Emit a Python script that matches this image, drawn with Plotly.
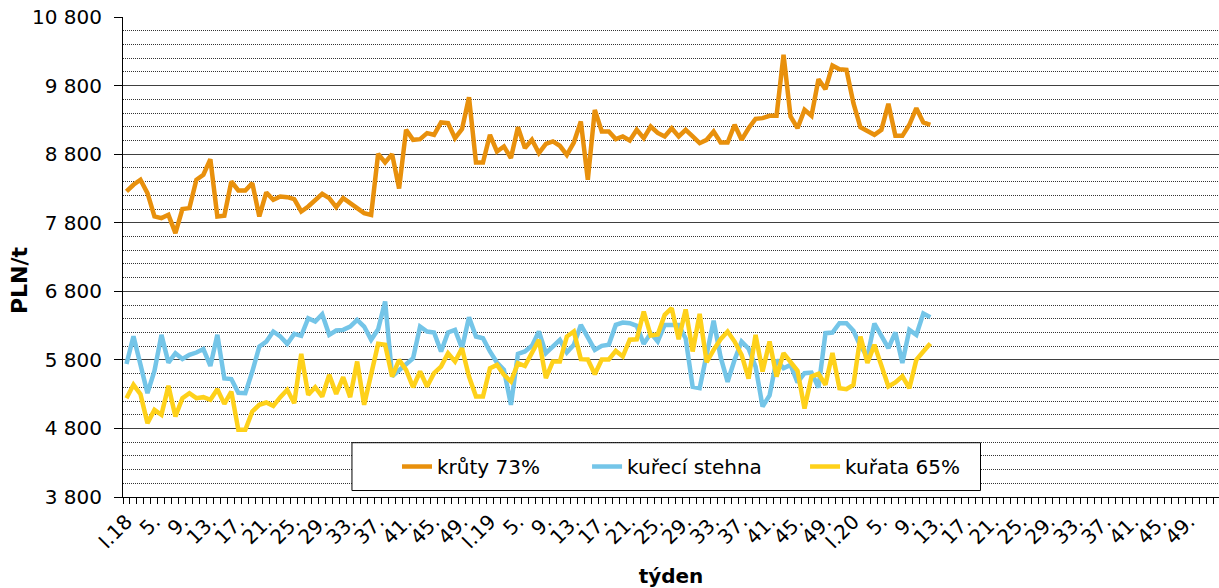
import plotly.graph_objects as go

# week categories 2018-2020 (52 weeks each)
years = ["18", "19", "20"]
weeks = [f"{w}.{y}" for y in years for w in range(1, 53)]

# axis labels shown every 4th week
tick_labels = ["I.18", "5.", "9.", "13.", "17.", "21.", "25.", "29.", "33.", "37.", "41.", "45.", "49.",
               "I.19", "5.", "9.", "13.", "17.", "21.", "25.", "29.", "33.", "37.", "41.", "45.", "49.",
               "I.20", "5.", "9.", "13.", "17.", "21.", "25.", "29.", "33.", "37.", "41.", "45.", "49."]

# PLN/t, weeks I.18 .. 12.20
kruty = [8256, 8353, 8426, 8231, 7891, 7867, 7915, 7648, 7998, 8013,
         8426, 8499, 8727, 7891, 7901, 8401, 8270, 8270, 8377, 7891,
         8241, 8134, 8183, 8173, 8144, 7964, 8037, 8134, 8222, 8158,
         8027, 8158, 8086, 8013, 7940, 7915, 8805, 8678, 8800, 8300,
         9155, 9009, 9019, 9106, 9082, 9262, 9252, 9033, 9165, 9631,
         8678, 8678, 9082, 8839, 8912, 8742, 9194, 8890, 9009, 8815,
         8951, 8985, 8922, 8790, 8970, 9276, 8426, 9446, 9130, 9130,
         9019, 9058, 8999, 9155, 9033, 9203, 9110, 9058, 9178, 9058,
         9155, 9058, 8960, 9009, 9130, 8970, 8970, 9228, 9009, 9178,
         9315, 9325, 9359, 9359, 10248, 9349, 9178, 9446, 9359, 9893,
         9747, 10093, 10039, 10029, 9543, 9194, 9130, 9082, 9155, 9534,
         9067, 9067, 9228, 9470, 9262, 9228]

stehna = [5740, 6145, 5730, 5314, 5640, 6165, 5760, 5897, 5812, 5873,
          5907, 5958, 5712, 6165, 5528, 5520, 5320, 5314, 5630, 5994,
          6067, 6213, 6140, 6033, 6179, 6150, 6407, 6359, 6466, 6165,
          6228, 6237, 6286, 6383, 6286, 6092, 6247, 6650, 5560, 5654,
          5727, 5824, 6286, 6213, 6199, 5922, 6199, 6237, 5970, 6422,
          6140, 6116, 5922, 5761, 5654, 5144, 5887, 5922, 6004, 6213,
          5897, 6004, 6092, 5907, 6019, 6310, 6140, 5946, 6004, 6019,
          6310, 6344, 6335, 6296, 6033, 6189, 6067, 6310, 6310, 6310,
          6110, 5405, 5387, 5870, 6370, 5840, 5480, 5800, 6067, 5962,
          5700, 5120, 5280, 5800, 5678, 5727, 5470, 5606, 5615, 5395,
          6189, 6199, 6335, 6335, 6225, 6000, 5850, 6330, 6155, 5970,
          6200, 5755, 6237, 6165, 6475, 6422]

kurata = [5241, 5436, 5300, 4877, 5071, 4998, 5421, 4974, 5241, 5314,
          5241, 5256, 5217, 5372, 5158, 5338, 4779, 4779, 5047, 5144,
          5178, 5129, 5256, 5363, 5168, 5887, 5290, 5401, 5265, 5581,
          5304, 5547, 5256, 5776, 5144, 5557, 6033, 6019, 5557, 5800,
          5654, 5401, 5630, 5411, 5606, 5703, 5897, 5776, 5970, 5557,
          5265, 5265, 5678, 5727, 5581, 5484, 5751, 5710, 5897, 6092,
          5533, 5776, 5776, 6140, 6213, 5810, 5805, 5590, 5805, 5805,
          5930, 5849, 6095, 6100, 6505, 6155, 6170, 6456, 6553, 6100,
          6535, 5922, 6470, 5765, 5946, 6101, 6213, 6067, 5873, 5525,
          6165, 5630, 6067, 5557, 5897, 5776, 5640, 5090, 5557, 5596,
          5436, 5900, 5385, 5372, 5436, 6140, 5755, 6019, 5690, 5411,
          5470, 5560, 5387, 5800, 5922, 6038]

# name, values, colour, legend id, legend x (paper)
series = [
    ("krůty 73%", kruty, "#E8900C", "legend", 0.25),
    ("kuřecí stehna", stehna, "#74C5E8", "legend2", 0.4234),
    ("kuřata 65%", kurata, "#FED11A", "legend3", 0.6223),
]

fig = go.Figure()
for name, vals, color, leg, _ in series:
    fig.add_trace(go.Scatter(
        x=weeks[:len(vals)],
        y=vals,
        mode="lines",
        name=name,
        legend=leg,
        line=dict(color=color, width=4.5),
    ))

# label every 4th category, blank elsewhere (keeps the small ticks)
ticktext = []
k = 0
for i in range(len(weeks)):
    if i % 4 == 0:
        ticktext.append(tick_labels[k])
        k += 1
    else:
        ticktext.append("")

font = "DejaVu Sans, Verdana, sans-serif"

legends = {}
for _, _, _, leg, lx in series:
    legends[leg] = dict(
        orientation="h",
        x=lx,
        y=0.0635,
        xanchor="left",
        yanchor="middle",
        bgcolor="rgba(0,0,0,0)",
        borderwidth=0,
        font=dict(size=20),
    )

fig.update_layout(
    width=1219,
    height=588,
    margin=dict(l=123, r=0, t=17, b=91),
    paper_bgcolor="white",
    plot_bgcolor="white",
    separators=", ",
    font=dict(family=font, size=20, color="black"),
    xaxis=dict(
        type="category",
        categoryorder="array",
        categoryarray=weeks,
        range=[-0.5, 156.3],
        tickmode="array",
        tickvals=weeks,
        ticktext=ticktext,
        tickangle=-45,
        tickson="boundaries",
        ticks="outside",
        ticklen=6,
        tickcolor="black",
        ticklabelstandoff=4,
        showgrid=False,
        showline=True,
        linecolor="black",
        linewidth=1,
        automargin=False,
        tickfont=dict(size=20),
        title=dict(text="<b>týden</b>", font=dict(size=20), standoff=16),
    ),
    yaxis=dict(
        range=[3800, 10800],
        tick0=3800,
        dtick=1000,
        tickformat=",d",
        ticks="outside",
        ticklen=8,
        tickcolor="black",
        ticklabelstandoff=8,
        showline=True,
        linecolor="black",
        linewidth=1,
        showgrid=True,
        gridcolor="#404040",
        gridwidth=1,
        zeroline=False,
        automargin=False,
        minor=dict(dtick=200, tick0=3800, showgrid=True, gridcolor="#333333",
                   griddash="1px,1px", gridwidth=1, ticks=""),
        tickfont=dict(size=20),
    ),
    annotations=[dict(text="<b>PLN/t</b>", textangle=-90, xref="paper", yref="paper",
                      x=-0.0949, y=0.452, xanchor="center", yanchor="middle",
                      showarrow=False, font=dict(size=22))],
    # legend frame
    shapes=[dict(type="rect", xref="paper", yref="paper",
                 x0=0.2089, x1=0.7824, y0=0.0135, y1=0.1131,
                 line=dict(color="black", width=1), fillcolor="white", layer="above")],
    showlegend=True,
    hovermode=False,
    **legends,
)

# page without the default body margin so the chart sits at the window origin
fig.write_html("out.html", config={"displayModeBar": False},
               post_script="document.body.style.margin='0';")
